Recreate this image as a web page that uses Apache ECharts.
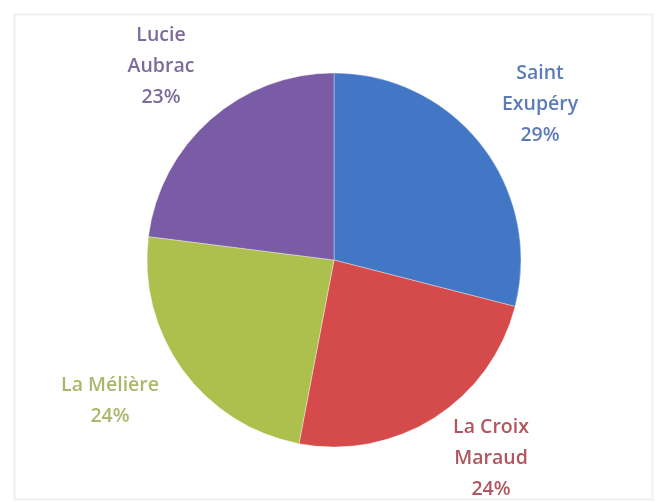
<!DOCTYPE html>
<html>
<head>
<meta charset="utf-8">
<script src="https://cdn.jsdelivr.net/npm/echarts@6/dist/echarts.min.js"></script>
<style>html,body{margin:0;padding:0;background:#fff;}#c{width:656px;height:502px;}</style>
</head>
<body>
<div id="c"></div>
<script>
const categories = ['Saint Exupéry', 'La Croix Maraud', 'La Mélière', 'Lucie Aubrac'];
const labelLines = [['Saint', 'Exupéry'], ['La Croix', 'Maraud'], ['La Mélière'], ['Lucie', 'Aubrac']];
const values = [29, 24, 24, 23];
const sliceColors = ['#4277c6', '#d54b4b', '#adc04e', '#7a5ba6'];
const labelColors = ['#5c7bb8', '#b0565c', '#a9b96c', '#7b6c9c'];
const labelPos = [[540, 104], [491, 458], [110, 401], [161, 66]];

const chart = echarts.init(document.getElementById('c'));
chart.setOption({
  animation: false,
  backgroundColor: '#fff',
  graphic: [{
    type: 'rect', shape: {x: 14.5, y: 14.5, width: 638, height: 485},
    style: {fill: 'none', stroke: '#efefef', lineWidth: 2}, silent: true
  }],
  series: [{
    type: 'pie',
    center: [334, 260],
    radius: [0, 187],
    startAngle: 90,
    clockwise: true,
    data: categories.map((c, i) => ({
      name: c, value: values[i],
      itemStyle: {color: sliceColors[i]},
      label: {color: labelColors[i]}
    })),
    itemStyle: {borderColor: 'rgba(255,255,255,0.35)', borderWidth: 1},
    label: {
      show: true,
      position: 'outside',
      formatter: p => labelLines[p.dataIndex].join('\n') + '\n' + p.value + '%',
      fontFamily: 'Open Sans',
      fontWeight: 600,
      fontSize: 19.5,
      lineHeight: 31,
      align: 'center'
    },
    labelLine: {show: false},
    labelLayout: p => ({
      x: labelPos[p.dataIndex][0],
      y: labelPos[p.dataIndex][1],
      align: 'center',
      verticalAlign: 'middle'
    })
  }]
});
</script>
</body>
</html>
